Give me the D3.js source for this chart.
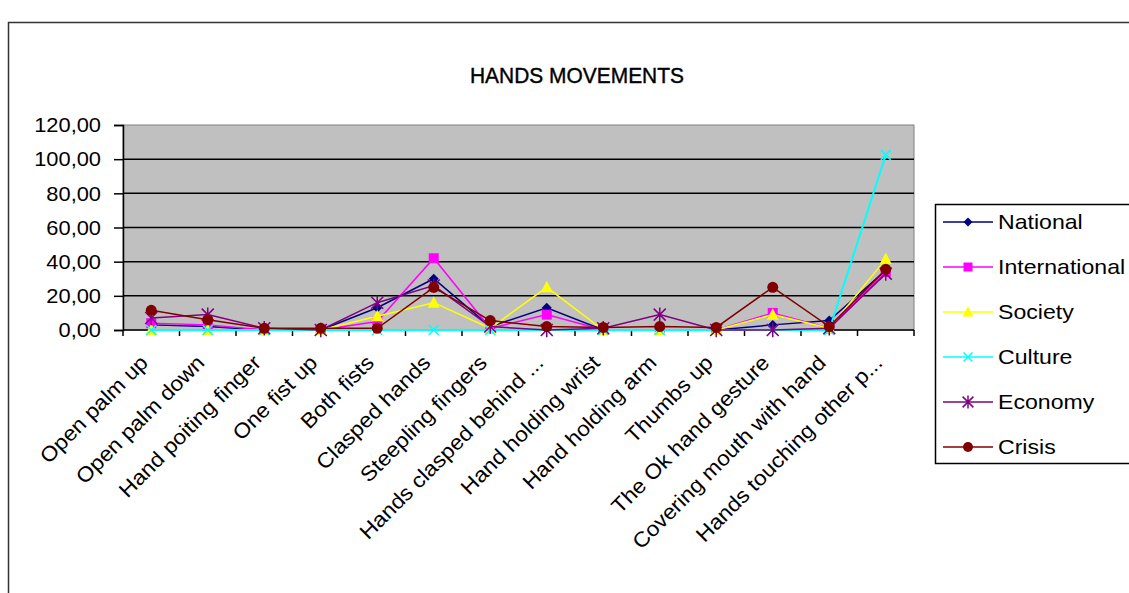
<!DOCTYPE html>
<html>
<head>
<meta charset="utf-8">
<script src="https://cdn.jsdelivr.net/npm/d3@7"></script>
<style>
  html, body { margin: 0; padding: 0; background: #fff; }
  svg { display: block; }
  text { font-family: "Liberation Sans", Arial, sans-serif; fill: #000; }
</style>
</head>
<body>
<svg id="chart" width="1129" height="593"></svg>
<script>
// Gesture categories along the x axis
const categories = [
  "Open palm up", "Open palm down", "Hand poiting finger", "One fist up",
  "Both fists", "Clasped hands", "Steepling fingers", "Hands clasped behind ...",
  "Hand holding wrist", "Hand holding arm", "Thumbs up", "The Ok hand gesture",
  "Covering mouth with hand", "Hands touching other p..."
];

// Percentages per news section
const national      = [3, 2, 0, 0, 13, 30, 2, 13, 0, 0, 0, 3, 5.5, 35];
const international = [4, 3, 0, 0, 5, 42, 1, 9, 0, 0, 0, 10, 1, 34];
const society       = [0, 0, 0, 0, 8, 16, 1, 25, 0, 0, 0, 9, 1, 41.5];
const culture       = [0, 0, 0, 0, 0, 0, 0, 0, 0, 0, 0, 0, 0, 102.5];
const economy       = [7, 9, 1, 0, 16, 26, 2, 0, 1, 9, 0, 0, 1, 33];
const crisis        = [11.5, 6, 1, 1, 1, 25, 5.5, 2, 1.5, 2, 1.5, 25, 2, 35.5];

const yTicks = [0, 20, 40, 60, 80, 100, 120];
const title = "HANDS MOVEMENTS";

const series = [
  { name: "National",      values: national,      color: "#000080", marker: "diamond" },
  { name: "International", values: international, color: "#ff00ff", marker: "square" },
  { name: "Society",       values: society,       color: "#ffff00", marker: "triangle" },
  { name: "Culture",       values: culture,       color: "#00ffff", marker: "cross" },
  { name: "Economy",       values: economy,       color: "#800080", marker: "asterisk" },
  { name: "Crisis",        values: crisis,        color: "#800000", marker: "circle" }
];

const svg = d3.select("#chart");

// Widen text slightly, keeping its height
function stretch(sel, k) {
  sel.each(function () {
    const len = this.getComputedTextLength();
    d3.select(this).attr("textLength", len * k).attr("lengthAdjust", "spacingAndGlyphs");
  });
}

// Outer chart frame
svg.append("rect")
  .attr("x", 8.5).attr("y", 22.5)
  .attr("width", 1140).attr("height", 600)
  .attr("fill", "#fff").attr("stroke", "#333").attr("stroke-width", 1.5);

const plot = { left: 123, right: 914, top: 125, bottom: 330 };

const x = d3.scaleBand().domain(categories).range([plot.left, plot.right]).padding(0);
const y = d3.scaleLinear().domain([0, 120]).range([plot.bottom, plot.top]);
const cx = c => x(c) + x.bandwidth() / 2;

// Title
svg.append("text")
  .attr("x", 577).attr("y", 83)
  .attr("text-anchor", "middle")
  .attr("font-size", 22)
  .attr("stroke", "#000").attr("stroke-width", 0.4)
  .attr("textLength", 214)
  .attr("lengthAdjust", "spacingAndGlyphs")
  .text(title);

// Plot area background
svg.append("rect")
  .attr("x", plot.left).attr("y", plot.top)
  .attr("width", plot.right - plot.left).attr("height", plot.bottom - plot.top)
  .attr("fill", "#c0c0c0").attr("stroke", "#808080").attr("stroke-width", 1);

// Horizontal gridlines
svg.append("g")
  .selectAll("line")
  .data(yTicks.filter(t => t > 0 && t < 120))
  .join("line")
  .attr("x1", plot.left).attr("x2", plot.right)
  .attr("y1", d => y(d)).attr("y2", d => y(d))
  .attr("stroke", "#000").attr("stroke-width", 1.5);

// Y axis
const yAxis = d3.axisLeft(y)
  .tickValues(yTicks)
  .tickSize(9)
  .tickPadding(13)
  .tickFormat(d => d3.format(".2f")(d).replace(".", ","));
const gy = svg.append("g").attr("transform", `translate(${plot.left},0)`).call(yAxis);
gy.select(".domain").attr("stroke", "#000").attr("stroke-width", 1.5);
gy.selectAll(".tick line").attr("stroke", "#000").attr("stroke-width", 1.5);
gy.selectAll(".tick text")
  .attr("font-size", 21)
  .attr("font-family", "Liberation Sans, Arial, sans-serif")
  .attr("fill", "#222")
  .call(stretch, 1.04);

// X axis: ticks at category boundaries
const gx = svg.append("g");
gx.append("line")
  .attr("x1", plot.left).attr("x2", plot.right)
  .attr("y1", plot.bottom).attr("y2", plot.bottom)
  .attr("stroke", "#000").attr("stroke-width", 1.5);
gx.selectAll("line.tick")
  .data(categories.concat([null]))
  .join("line")
  .attr("class", "tick")
  .attr("x1", (d, i) => plot.left + i * x.bandwidth())
  .attr("x2", (d, i) => plot.left + i * x.bandwidth())
  .attr("y1", plot.bottom).attr("y2", plot.bottom + 6)
  .attr("stroke", "#000").attr("stroke-width", 1.5);
gx.selectAll("text")
  .data(categories)
  .join("text")
  .attr("transform", d => `translate(${cx(d) - 2},${plot.bottom + 34}) rotate(-45)`)
  .attr("text-anchor", "end")
  .attr("font-size", 21)
  .text(d => d)
  .call(stretch, 1.08);

// Marker shapes
function drawMarker(g, type, color, px, py, s) {
  s = s || 1;
  if (type === "diamond") {
    g.append("path")
      .attr("d", `M${px},${py - 5 * s}L${px + 5 * s},${py}L${px},${py + 5 * s}L${px - 5 * s},${py}Z`)
      .attr("fill", color);
  } else if (type === "square") {
    g.append("rect")
      .attr("x", px - 5 * s).attr("y", py - 5 * s)
      .attr("width", 10 * s).attr("height", 10 * s)
      .attr("fill", color);
  } else if (type === "triangle") {
    g.append("path")
      .attr("d", `M${px},${py - 6.5 * s}L${px + 6 * s},${py + 5 * s}L${px - 6 * s},${py + 5 * s}Z`)
      .attr("fill", color);
  } else if (type === "cross") {
    const r = 5 * s;
    g.append("path")
      .attr("d", `M${px - r},${py - r}L${px + r},${py + r}M${px - r},${py + r}L${px + r},${py - r}`)
      .attr("stroke", color).attr("stroke-width", 1.5).attr("fill", "none");
  } else if (type === "asterisk") {
    const r = 6 * s;
    g.append("path")
      .attr("d", `M${px - r},${py - r}L${px + r},${py + r}M${px - r},${py + r}L${px + r},${py - r}M${px},${py - r * 1.2}L${px},${py + r * 1.2}`)
      .attr("stroke", color).attr("stroke-width", 1.5).attr("fill", "none");
  } else if (type === "circle") {
    g.append("circle")
      .attr("cx", px).attr("cy", py).attr("r", 5.5 * s)
      .attr("fill", color);
  }
}

// Series lines and markers
const line = d3.line().x((d, i) => cx(categories[i])).y(d => y(d));
const gs = svg.append("g");
series.forEach(s => {
  const g = gs.append("g");
  g.append("path")
    .attr("d", line(s.values))
    .attr("fill", "none")
    .attr("stroke", s.color)
    .attr("stroke-width", s.name === "Culture" ? 2 : 1.5);
  s.values.forEach((v, i) => drawMarker(g, s.marker, s.color, cx(categories[i]), y(v)));
});

// Legend
const legend = svg.append("g");
legend.append("rect")
  .attr("x", 935.5).attr("y", 204.5)
  .attr("width", 210).attr("height", 259)
  .attr("fill", "#fff").attr("stroke", "#000").attr("stroke-width", 1.5);
const legendY = d3.scalePoint().domain(series.map(s => s.name)).range([222, 447]);
series.forEach(s => {
  const ly = legendY(s.name);
  const g = legend.append("g");
  g.append("line")
    .attr("x1", 943).attr("x2", 993)
    .attr("y1", ly).attr("y2", ly)
    .attr("stroke", s.color).attr("stroke-width", 1.5);
  drawMarker(g, s.marker, s.color, 968, ly, 0.9);
  g.append("text")
    .attr("x", 998).attr("y", ly)
    .attr("dy", "0.35em")
    .attr("font-size", 21)
    .attr("fill", "#222")
    .text(s.name)
    .call(stretch, 1.1);
});
</script>
</body>
</html>
